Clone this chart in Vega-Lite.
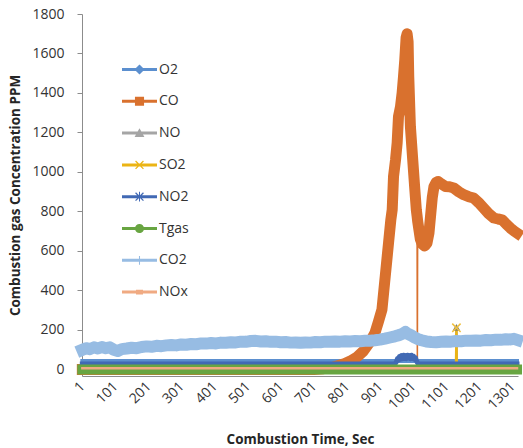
{
  "$schema": "https://vega.github.io/schema/vega-lite/v6.json",
  "width": 436,
  "height": 362,
  "autosize": {"type": "none"},
  "padding": {"left": 82, "top": 14, "right": 5, "bottom": 72},
  "background": "white",
  "config": {
    "view": {"stroke": null},
    "font": "Open Sans",
    "axis": {
      "grid": false,
      "labelFont": "Open Sans",
      "labelFontSize": 14,
      "labelColor": "#333333",
      "titleFont": "Open Sans",
      "titleFontWeight": "bold",
      "titleFontSize": 13.5,
      "titleColor": "#262626",
      "domainColor": "#8c8c8c",
      "tickColor": "#8c8c8c",
      "labelFlush": false,
      "labelOverlap": false
    },
    "legend": {
      "symbolSize": 1225,
      "symbolStrokeWidth": 0,
      "symbolOpacity": 1,
      "labelFont": "Open Sans",
      "labelFontSize": 14,
      "labelColor": "#333333",
      "labelOffset": 2,
      "rowPadding": 6.8
    }
  },
  "data": {
    "values": [
      {"s": "O2", "t": 1, "v": 43}, {"s": "O2", "t": 1314, "v": 43},
      {"s": "CO", "t": 1, "v": 0}, {"s": "CO", "t": 700, "v": 0}, {"s": "CO", "t": 730, "v": 4}, {"s": "CO", "t": 760, "v": 12},
      {"s": "CO", "t": 790, "v": 28}, {"s": "CO", "t": 810, "v": 42}, {"s": "CO", "t": 830, "v": 62}, {"s": "CO", "t": 850, "v": 93},
      {"s": "CO", "t": 870, "v": 140}, {"s": "CO", "t": 885, "v": 185}, {"s": "CO", "t": 895, "v": 240}, {"s": "CO", "t": 906, "v": 303},
      {"s": "CO", "t": 916, "v": 472}, {"s": "CO", "t": 926, "v": 642}, {"s": "CO", "t": 933, "v": 760}, {"s": "CO", "t": 937, "v": 809},
      {"s": "CO", "t": 941, "v": 977}, {"s": "CO", "t": 947, "v": 1060}, {"s": "CO", "t": 952, "v": 1148}, {"s": "CO", "t": 956, "v": 1281},
      {"s": "CO", "t": 962, "v": 1330}, {"s": "CO", "t": 967, "v": 1400}, {"s": "CO", "t": 971, "v": 1480}, {"s": "CO", "t": 975, "v": 1567},
      {"s": "CO", "t": 979, "v": 1680}, {"s": "CO", "t": 982, "v": 1700}, {"s": "CO", "t": 985, "v": 1660}, {"s": "CO", "t": 987, "v": 1483},
      {"s": "CO", "t": 992, "v": 1230}, {"s": "CO", "t": 999, "v": 1062}, {"s": "CO", "t": 1005, "v": 920}, {"s": "CO", "t": 1010, "v": 806},
      {"s": "CO", "t": 1012, "v": 780}, {"s": "CO", "t": 1013, "v": 0}, {"s": "CO", "t": 1014, "v": 750}, {"s": "CO", "t": 1022, "v": 660},
      {"s": "CO", "t": 1028, "v": 635}, {"s": "CO", "t": 1035, "v": 625}, {"s": "CO", "t": 1042, "v": 640}, {"s": "CO", "t": 1048, "v": 690},
      {"s": "CO", "t": 1053, "v": 780}, {"s": "CO", "t": 1058, "v": 870}, {"s": "CO", "t": 1063, "v": 925}, {"s": "CO", "t": 1070, "v": 948},
      {"s": "CO", "t": 1076, "v": 952}, {"s": "CO", "t": 1085, "v": 940}, {"s": "CO", "t": 1098, "v": 927}, {"s": "CO", "t": 1110, "v": 925},
      {"s": "CO", "t": 1123, "v": 919}, {"s": "CO", "t": 1138, "v": 900}, {"s": "CO", "t": 1153, "v": 885}, {"s": "CO", "t": 1168, "v": 875},
      {"s": "CO", "t": 1183, "v": 868}, {"s": "CO", "t": 1198, "v": 845}, {"s": "CO", "t": 1213, "v": 818}, {"s": "CO", "t": 1228, "v": 790},
      {"s": "CO", "t": 1244, "v": 767}, {"s": "CO", "t": 1257, "v": 762}, {"s": "CO", "t": 1269, "v": 758}, {"s": "CO", "t": 1282, "v": 735},
      {"s": "CO", "t": 1294, "v": 716}, {"s": "CO", "t": 1306, "v": 700}, {"s": "CO", "t": 1314, "v": 691},
      {"s": "NO", "t": 1, "v": 0}, {"s": "NO", "t": 1130, "v": 0}, {"s": "NO", "t": 1131, "v": 213}, {"s": "NO", "t": 1132, "v": 0}, {"s": "NO", "t": 1314, "v": 0},
      {"s": "SO2", "t": 1, "v": 0}, {"s": "SO2", "t": 1130, "v": 0}, {"s": "SO2", "t": 1131, "v": 211}, {"s": "SO2", "t": 1132, "v": 0}, {"s": "SO2", "t": 1314, "v": 0},
      {"s": "NO2", "t": 1, "v": 28}, {"s": "NO2", "t": 945, "v": 28}, {"s": "NO2", "t": 950, "v": 40}, {"s": "NO2", "t": 953, "v": 55},
      {"s": "NO2", "t": 956, "v": 48}, {"s": "NO2", "t": 959, "v": 66}, {"s": "NO2", "t": 962, "v": 52}, {"s": "NO2", "t": 965, "v": 70},
      {"s": "NO2", "t": 968, "v": 55}, {"s": "NO2", "t": 971, "v": 72}, {"s": "NO2", "t": 974, "v": 56}, {"s": "NO2", "t": 977, "v": 70},
      {"s": "NO2", "t": 980, "v": 55}, {"s": "NO2", "t": 983, "v": 72}, {"s": "NO2", "t": 986, "v": 58}, {"s": "NO2", "t": 989, "v": 70},
      {"s": "NO2", "t": 992, "v": 55}, {"s": "NO2", "t": 995, "v": 72}, {"s": "NO2", "t": 998, "v": 56}, {"s": "NO2", "t": 1001, "v": 68},
      {"s": "NO2", "t": 1004, "v": 52}, {"s": "NO2", "t": 1007, "v": 60}, {"s": "NO2", "t": 1010, "v": 45}, {"s": "NO2", "t": 1014, "v": 32},
      {"s": "NO2", "t": 1018, "v": 28}, {"s": "NO2", "t": 1314, "v": 28},
      {"s": "Tgas", "t": 1, "v": 0}, {"s": "Tgas", "t": 1314, "v": 0},
      {"s": "CO2", "t": 1, "v": 100}, {"s": "CO2", "t": 12, "v": 108}, {"s": "CO2", "t": 24, "v": 103}, {"s": "CO2", "t": 36, "v": 112},
      {"s": "CO2", "t": 48, "v": 106}, {"s": "CO2", "t": 60, "v": 114}, {"s": "CO2", "t": 72, "v": 108}, {"s": "CO2", "t": 84, "v": 112},
      {"s": "CO2", "t": 96, "v": 100}, {"s": "CO2", "t": 108, "v": 94}, {"s": "CO2", "t": 120, "v": 103}, {"s": "CO2", "t": 135, "v": 106},
      {"s": "CO2", "t": 150, "v": 110}, {"s": "CO2", "t": 165, "v": 108}, {"s": "CO2", "t": 180, "v": 114}, {"s": "CO2", "t": 195, "v": 117},
      {"s": "CO2", "t": 210, "v": 115}, {"s": "CO2", "t": 225, "v": 120}, {"s": "CO2", "t": 240, "v": 118}, {"s": "CO2", "t": 255, "v": 122},
      {"s": "CO2", "t": 270, "v": 124}, {"s": "CO2", "t": 285, "v": 122}, {"s": "CO2", "t": 300, "v": 127}, {"s": "CO2", "t": 315, "v": 125},
      {"s": "CO2", "t": 330, "v": 129}, {"s": "CO2", "t": 345, "v": 128}, {"s": "CO2", "t": 360, "v": 132}, {"s": "CO2", "t": 375, "v": 131},
      {"s": "CO2", "t": 390, "v": 134}, {"s": "CO2", "t": 405, "v": 132}, {"s": "CO2", "t": 420, "v": 136}, {"s": "CO2", "t": 435, "v": 135},
      {"s": "CO2", "t": 450, "v": 138}, {"s": "CO2", "t": 465, "v": 137}, {"s": "CO2", "t": 480, "v": 141}, {"s": "CO2", "t": 495, "v": 140},
      {"s": "CO2", "t": 510, "v": 144}, {"s": "CO2", "t": 525, "v": 145}, {"s": "CO2", "t": 540, "v": 142}, {"s": "CO2", "t": 555, "v": 143},
      {"s": "CO2", "t": 570, "v": 140}, {"s": "CO2", "t": 585, "v": 141}, {"s": "CO2", "t": 600, "v": 138}, {"s": "CO2", "t": 615, "v": 139},
      {"s": "CO2", "t": 630, "v": 136}, {"s": "CO2", "t": 645, "v": 137}, {"s": "CO2", "t": 660, "v": 135}, {"s": "CO2", "t": 675, "v": 137},
      {"s": "CO2", "t": 690, "v": 136}, {"s": "CO2", "t": 705, "v": 139}, {"s": "CO2", "t": 720, "v": 138}, {"s": "CO2", "t": 735, "v": 141},
      {"s": "CO2", "t": 750, "v": 140}, {"s": "CO2", "t": 765, "v": 142}, {"s": "CO2", "t": 780, "v": 141}, {"s": "CO2", "t": 795, "v": 143},
      {"s": "CO2", "t": 810, "v": 142}, {"s": "CO2", "t": 825, "v": 144}, {"s": "CO2", "t": 840, "v": 143}, {"s": "CO2", "t": 855, "v": 145},
      {"s": "CO2", "t": 870, "v": 146}, {"s": "CO2", "t": 885, "v": 148}, {"s": "CO2", "t": 900, "v": 151}, {"s": "CO2", "t": 915, "v": 156},
      {"s": "CO2", "t": 930, "v": 162}, {"s": "CO2", "t": 945, "v": 168}, {"s": "CO2", "t": 958, "v": 174}, {"s": "CO2", "t": 970, "v": 182},
      {"s": "CO2", "t": 977, "v": 190}, {"s": "CO2", "t": 984, "v": 181}, {"s": "CO2", "t": 995, "v": 172}, {"s": "CO2", "t": 1005, "v": 162},
      {"s": "CO2", "t": 1015, "v": 154}, {"s": "CO2", "t": 1025, "v": 148}, {"s": "CO2", "t": 1040, "v": 142}, {"s": "CO2", "t": 1055, "v": 139},
      {"s": "CO2", "t": 1070, "v": 138}, {"s": "CO2", "t": 1085, "v": 140}, {"s": "CO2", "t": 1100, "v": 142}, {"s": "CO2", "t": 1115, "v": 141},
      {"s": "CO2", "t": 1130, "v": 144}, {"s": "CO2", "t": 1145, "v": 143}, {"s": "CO2", "t": 1160, "v": 146}, {"s": "CO2", "t": 1175, "v": 145},
      {"s": "CO2", "t": 1190, "v": 147}, {"s": "CO2", "t": 1205, "v": 146}, {"s": "CO2", "t": 1220, "v": 149}, {"s": "CO2", "t": 1235, "v": 148},
      {"s": "CO2", "t": 1250, "v": 151}, {"s": "CO2", "t": 1265, "v": 150}, {"s": "CO2", "t": 1280, "v": 153}, {"s": "CO2", "t": 1295, "v": 152},
      {"s": "CO2", "t": 1305, "v": 155}, {"s": "CO2", "t": 1314, "v": 150},
      {"s": "NOx", "t": 1, "v": 6}, {"s": "NOx", "t": 1314, "v": 6}
    ]
  },
  "encoding": {
    "x": {
      "field": "t", "type": "quantitative",
      "scale": {"domain": [0, 1317], "nice": false, "zero": false},
      "axis": {
        "values": [1, 101, 201, 301, 401, 501, 601, 701, 801, 901, 1001, 1101, 1201, 1301],
        "format": "d",
        "labelAngle": -45, "labelAlign": "right", "labelBaseline": "middle",
        "ticks": false, "labelPadding": 8,
        "title": "Combustion Time, Sec", "titleY": 63, "titleBaseline": "middle"
      }
    },
    "y": {
      "field": "v", "type": "quantitative",
      "scale": {"domain": [-33, 1800], "nice": false, "zero": false},
      "axis": {
        "values": [0, 200, 400, 600, 800, 1000, 1200, 1400, 1600, 1800],
        "format": "d",
        "tickSize": 5, "labelPadding": 13,
        "title": "Combustion gas Concentration PPM", "titlePadding": 9
      }
    }
  },
  "layer": [
    {
      "mark": {"type": "line", "strokeWidth": 0},
      "encoding": {
        "color": {
          "field": "s", "type": "nominal",
          "scale": {
            "domain": ["O2", "CO", "NO", "SO2", "NO2", "Tgas", "CO2", "NOx"],
            "range": ["#5B8FCF", "#D9712E", "#A5A5A5", "#EBB414", "#4169B4", "#68A541", "#97BCE3", "#F0AA82"]
          },
          "legend": {
            "title": null, "orient": "none", "legendX": 40, "legendY": 38,
            "symbolType": "M-1,-0.086H1V0.086H-1Z",
            "encode": {
              "symbols": {
                "update": {
                  "fill": {"scale": "color", "field": "value"},
                  "strokeOpacity": {"value": 0},
                  "opacity": {"value": 1},
                  "shape": {"signal": "datum.value === 'O2' ? 'M-1,-0.086H1V0.086H-1Z M0,-0.29L0.29,0L0,0.29L-0.29,0Z' : datum.value === 'CO' ? 'M-1,-0.086H1V0.086H-1Z M-0.26,-0.26H0.26V0.26H-0.26Z' : datum.value === 'NO' ? 'M-1,-0.086H1V0.086H-1Z M0,-0.28L0.28,0.22L-0.28,0.22Z' : datum.value === 'SO2' ? 'M-1,-0.086H1V0.086H-1Z M-0.25,-0.2L-0.2,-0.25L0.25,0.2L0.2,0.25Z M0.2,-0.25L0.25,-0.2L-0.2,0.25L-0.25,0.2Z' : datum.value === 'NO2' ? 'M-1,-0.086H1V0.086H-1Z M-0.25,-0.2L-0.2,-0.25L0.25,0.2L0.2,0.25Z M0.2,-0.25L0.25,-0.2L-0.2,0.25L-0.25,0.2Z M-0.03,-0.28H0.03V0.28H-0.03Z' : datum.value === 'Tgas' ? 'M-1,-0.086H1V0.086H-1Z M0.26,0A0.26,0.26 0 1,1 -0.26,0A0.26,0.26 0 1,1 0.26,0Z' : datum.value === 'CO2' ? 'M-1,-0.086H1V0.086H-1Z M-0.03,-0.25H0.03V0.25H-0.03Z' : 'M-1,-0.086H1V0.086H-1Z M-0.2,-0.13H0.2V0.13H-0.2Z'"}
                }
              }
            }
          }
        }
      }
    },
    {
      "transform": [{"filter": "datum.s == 'CO'"}],
      "mark": {"type": "line", "color": "#D9712E", "strokeWidth": 1.5}
    },
    {
      "transform": [{"filter": "datum.s == 'O2'"}],
      "mark": {"type": "line", "color": "#5B8FCF", "strokeWidth": 4, "strokeCap": "square"}
    },
    {
      "transform": [{"filter": "datum.s == 'CO' && !(datum.t > 900 && datum.v < 100)"}],
      "mark": {"type": "line", "color": "#D9712E", "strokeWidth": 11, "strokeJoin": "round", "strokeCap": "square"}
    },
    {
      "transform": [{"filter": "datum.s == 'NO'"}],
      "mark": {"type": "line", "color": "#A5A5A5", "strokeWidth": 2.5}
    },
    {
      "transform": [{"filter": "datum.s == 'SO2'"}],
      "mark": {"type": "line", "color": "#EBB414", "strokeWidth": 2.5}
    },
    {
      "transform": [{"filter": "datum.s == 'NO2'"}],
      "mark": {"type": "line", "color": "#4169B4", "strokeWidth": 5, "strokeJoin": "round", "strokeCap": "square"}
    },
    {
      "transform": [{"filter": "datum.s == 'Tgas'"}],
      "mark": {"type": "line", "color": "#68A541", "strokeWidth": 10, "strokeCap": "square"}
    },
    {
      "transform": [{"filter": "datum.s == 'CO2'"}],
      "mark": {"type": "line", "color": "#97BCE3", "strokeWidth": 12, "strokeJoin": "round", "strokeCap": "square"}
    },
    {
      "transform": [{"filter": "datum.s == 'NOx'"}],
      "mark": {"type": "line", "color": "#F0AA82", "strokeWidth": 2.5, "strokeCap": "square"}
    },
    {
      "transform": [{"filter": "datum.s == 'NO' && datum.v > 100"}],
      "mark": {"type": "point", "shape": "triangle-up", "filled": true, "color": "#7f7f6f", "size": 60, "opacity": 1}
    },
    {
      "transform": [{"filter": "datum.s == 'SO2' && datum.v > 100"}],
      "mark": {"type": "point", "shape": "M-1,-1L1,1M1,-1L-1,1", "filled": false, "color": "#F0C040", "size": 70, "strokeWidth": 1.5, "opacity": 1}
    }
  ]
}
